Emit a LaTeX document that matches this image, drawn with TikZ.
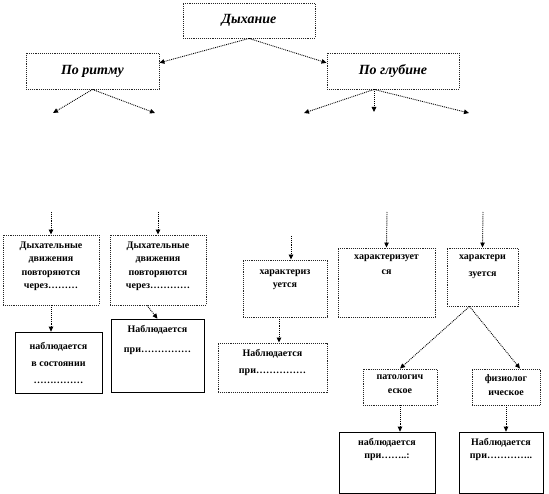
\documentclass[tikz,border=0pt]{standalone}
\usepackage{fontspec}
\setmainfont{Liberation Serif}
\usetikzlibrary{arrows.meta,positioning,calc}

\begin{document}
\begin{tikzpicture}[x=1pt,y=-1pt,
  dbox/.style={draw=black!85, densely dotted, line width=0.9pt, fill=white, inner sep=0pt},
  sbox/.style={draw=black, line width=0.7pt, fill=white, inner sep=0pt},
  wh/.style 2 args={minimum width=#1pt, minimum height=#2pt},
  head/.style={font=\fontsize{14}{16}\selectfont\bfseries\itshape},
  txt/.style={align=center, inner sep=0pt, font=\fontsize{10}{#1}\selectfont\bfseries},
  txt/.default=13.5,
  link/.style={densely dotted, line width=0.9pt, -{Triangle[length=5pt,width=4.5pt]}},
]
\useasboundingbox (0,0) rectangle (549,494);

% upper levels
\node[dbox, wh={132}{35}, head] (T) at (249,20.5) {Дыхание};
\node[dbox, wh={133}{36}, head] (R) at (92.5,71) {По ритму};
\node[dbox, wh={132}{36}, head] (G) at (393,71) {По глубине};

\draw[link] (T.south) -- (R.7);
\draw[link] (T.south) -- (G.173);

\coordinate (r1) at (53,113);
\coordinate (r2) at (155,113);
\coordinate (gs) at ($(G.south)+(-19,0)$);
\coordinate (g1) at (304,113);
\coordinate (g2) at (374,112);
\coordinate (g3) at (469,113);
\draw[link] (R.south) -- (r1);
\draw[link] (R.south) -- (r2);
\draw[link] (gs) -- (g1);
\draw[link] (gs) -- (g2);
\draw[link] (gs) -- (g3);

% lower boxes
\node[dbox, wh={96}{70}] (A) at (51,270) {};
\node[txt, below=7pt of A.north] (At) {Дыхательные\\движения\\повторяются\\через………};
\node[dbox, wh={96}{70}] (B) at (158,270) {};
\node[txt, below=7pt of B.north] (Bt) {Дыхательные\\движения\\повторяются\\через…………};
\node[sbox, wh={87}{61}] (C) at (58.5,362.5) {};
\node[txt=17, below=10pt of C.north] (Ct) {наблюдается\\в состоянии\\……………};
\node[sbox, wh={93}{73}] (D) at (157.5,355.5) {};
\node[txt=20, below=6pt of D.north] (Dt) {Наблюдается\\при……………};
\node[dbox, wh={84}{57}] (E) at (285,288.5) {};
\node[txt, below=10pt of E.north] (Et) {характериз\\уется};
\node[dbox, wh={109}{49}] (F) at (272.5,367.5) {};
\node[txt=17, below=7pt of F.north] (Ft) {Наблюдается\\при……………};
\node[dbox, wh={97}{69}] (K2) at (386.5,282.5) {};
\node[txt=15, below=7pt of K2.north] (K2t) {характеризует\\ся};
\node[dbox, wh={71}{58}] (H) at (482.5,277) {};
\node[txt=17, below=7pt of H.north] (Ht) {характери\\зуется};
\node[dbox, wh={74}{36}] (I) at (400,387) {};
\node[txt=14, below=6pt of I.north] (It) {патологич\\еское};
\node[dbox, wh={68}{36}] (J) at (506,387) {};
\node[txt=14, below=6pt of J.north] (Jt) {физиолог\\ическое};
\node[sbox, wh={96}{61}] (K) at (387,462.5) {};
\node[txt=13, below=6pt of K.north] (Kt) {наблюдается\\при……..:};
\node[sbox, wh={84}{61}] (L) at (501,462.5) {};
\node[txt=13, below=6pt of L.north] (Lt) {Наблюдается\\при…………..};

% connectors
\coordinate (a0) at (51,212);
\coordinate (b0) at (158,212);
\coordinate (e0) at (291,236);
\coordinate (k0) at (387,212);
\coordinate (h0) at (483,212);
\draw[link] (a0) -- (A.north);
\draw[link] (b0) -- (B.north);
\draw[link] (e0) -- (e0 |- E.north);
\draw[link] (k0) -- (K2.north);
\draw[link] (h0) -- (H.north);

\draw[link] (A.south) -- (A.south |- C.north);
\draw[link] ($(B.south)+(-11,0)$) -- (D.north);
\coordinate (f0) at (279,317);
\draw[link] (f0) -- (f0 |- F.north);

\coordinate (h1) at ($(H.south)+(-13,0)$);
\draw[link] (h1) -- (I.north);
\draw[link] (h1) -- ([xshift=14pt]J.north);
\draw[link] (I.south) -- (I.south |- K.north);
\draw[link] (J.south) -- (J.south |- L.north);
\end{tikzpicture}
\end{document}
